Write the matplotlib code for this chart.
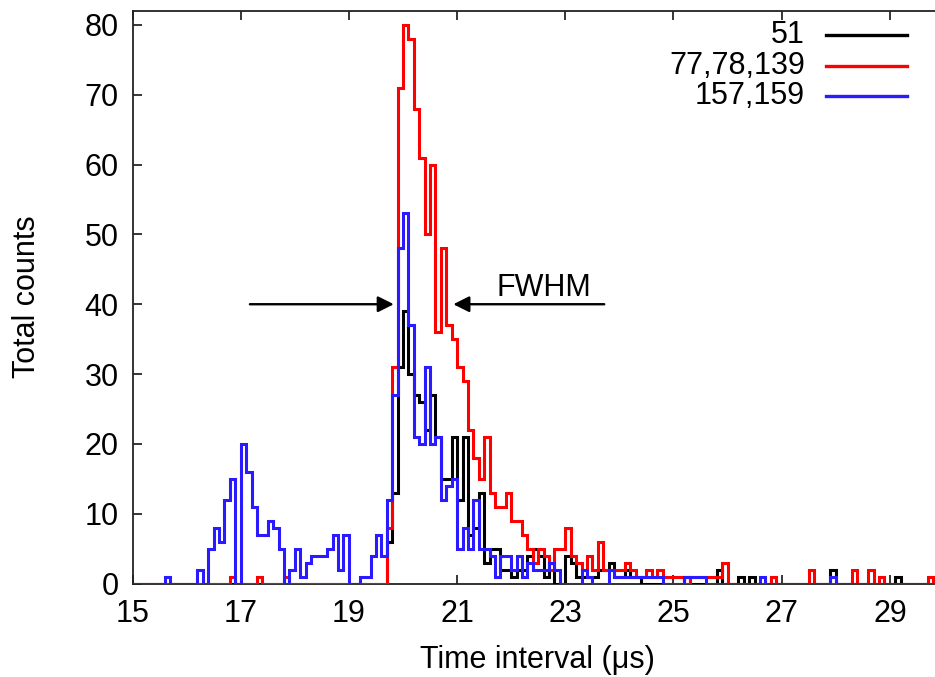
import numpy as np
import matplotlib
matplotlib.use("Agg")
import matplotlib.pyplot as plt

plt.rcParams['font.family'] = ['Liberation Sans', 'DejaVu Sans']

# ---- data: counts per 0.1 us bin, starting at 15.0 us ----
bin_start = 15.0
bin_width = 0.1

counts_51 = [
    0, 0, 0, 0, 0, 0, 0, 0, 0, 0,        # 15.0
    0, 0, 0, 0, 0, 0, 0, 0, 0, 0,        # 16.0
    0, 0, 0, 0, 0, 0, 0, 0, 0, 0,        # 17.0
    0, 0, 0, 0, 0, 0, 0, 0, 0, 0,        # 18.0
    0, 0, 0, 0, 0, 0, 0, 6, 13, 31,      # 19.0
    39, 30, 27, 26, 22, 27, 21, 15, 15, 21,  # 20.0
    12, 21, 7, 8, 13, 3, 5, 5, 2, 2,     # 21.0
    1, 2, 2, 4, 5, 4, 1, 3, 0, 0,        # 22.0
    4, 3, 1, 1, 1, 1, 2, 2, 3, 1,        # 23.0
    1, 2, 1, 1, 0, 0, 0, 0, 0, 0,        # 24.0
    0, 0, 1, 0, 0, 0, 0, 0, 2, 0,        # 25.0
    0, 0, 1, 0, 1, 0, 0, 0, 0, 0,        # 26.0
    0, 0, 0, 0, 0, 0, 0, 0, 0, 2,        # 27.0
    0, 0, 0, 0, 0, 0, 0, 0, 0, 0,        # 28.0
    0, 1, 0, 0, 0, 0, 0, 0, 0,           # 29.0
]

counts_77_78_139 = [
    0, 0, 0, 0, 0, 0, 0, 0, 0, 0,        # 15.0
    0, 0, 0, 0, 0, 0, 0, 0, 1, 0,        # 16.0
    0, 0, 0, 1, 0, 0, 0, 0, 1, 0,        # 17.0
    0, 0, 0, 0, 0, 0, 0, 0, 0, 0,        # 18.0
    0, 0, 0, 0, 0, 0, 0, 8, 31, 71,      # 19.0
    80, 78, 68, 61, 50, 60, 36, 48, 37, 35,  # 20.0
    31, 29, 22, 18, 15, 21, 13, 11, 11, 13,  # 21.0
    9, 9, 7, 5, 3, 5, 4, 2, 5, 5,        # 22.0
    8, 4, 3, 2, 4, 2, 6, 2, 2, 2,        # 23.0
    2, 3, 2, 1, 1, 2, 1, 2, 1, 1,        # 24.0
    1, 1, 0, 1, 1, 1, 1, 1, 1, 3,        # 25.0
    0, 0, 0, 0, 0, 0, 0, 0, 1, 0,        # 26.0
    0, 0, 0, 0, 0, 2, 0, 0, 0, 0,        # 27.0
    0, 0, 0, 2, 0, 0, 2, 0, 1, 0,        # 28.0
    0, 0, 0, 0, 0, 0, 0, 1, 0,           # 29.0
]

counts_157_159 = [
    0, 0, 0, 0, 0, 0, 1, 0, 0, 0,        # 15.0
    0, 0, 2, 0, 5, 8, 6, 12, 15, 0,      # 16.0
    20, 16, 11, 7, 7, 9, 8, 5, 0, 2,     # 17.0
    5, 1, 3, 4, 4, 4, 5, 7, 2, 7,        # 18.0
    0, 0, 1, 1, 4, 7, 4, 12, 27, 48,     # 19.0
    53, 37, 21, 20, 31, 20, 21, 12, 14, 15,  # 20.0
    5, 8, 5, 12, 5, 5, 4, 1, 4, 4,       # 21.0
    2, 4, 1, 3, 2, 2, 2, 3, 2, 0,        # 22.0
    0, 0, 0, 2, 1, 0, 0, 0, 2, 1,        # 23.0
    1, 1, 1, 1, 1, 1, 1, 1, 0, 0,        # 24.0
    0, 0, 1, 1, 1, 1, 0, 0, 0, 0,        # 25.0
    0, 0, 0, 0, 0, 0, 1, 0, 0, 0,        # 26.0
    0, 0, 0, 0, 0, 0, 0, 0, 0, 1,        # 27.0
    0, 0, 0, 0, 0, 0, 0, 0, 0, 0,        # 28.0
    0, 0, 0, 0, 0, 0, 0, 0, 0,           # 29.0
]

series_labels = ["51", "77,78,139", "157,159"]
series_colors = ["#000000", "#ff0000", "#2a1aff"]
series_counts = [counts_51, counts_77_78_139, counts_157_159]

x_ticks = [15, 17, 19, 21, 23, 25, 27, 29]
y_ticks = [0, 10, 20, 30, 40, 50, 60, 70, 80]

# FWHM annotation (data coordinates)
fwhm_y = 40
fwhm_left_arrow = (17.17, 19.83)   # tail, head
fwhm_right_arrow = (23.72, 20.93)  # tail, head
fwhm_text_pos = (21.73, 41.2)

# ---- figure ----
W, H = 935, 677
fig = plt.figure(figsize=(W / 100, H / 100), dpi=100)
ax_left, ax_right, ax_top, ax_bot = 132.5, 935.0, 11.0, 583.5
ax = fig.add_axes([ax_left / W, 1 - ax_bot / H, (ax_right - ax_left) / W, (ax_bot - ax_top) / H])

for counts, color in zip(series_counts, series_colors):
    c = np.asarray(counts, dtype=float)
    edges = bin_start + bin_width * np.arange(len(c) + 1)
    ax.stairs(c, edges, baseline=0, color=color, lw=2.2, zorder=3)

px_per_unit = 54.1
ax.set_xlim(15, 15 + (ax_right - ax_left) / px_per_unit)
ax.set_ylim(0, 82)
ax.set_xticks(x_ticks)
ax.set_yticks(y_ticks)

fs = 22
ax.tick_params(direction='in', length=6.5, width=1.1, top=True, right=False,
               labelsize=fs, colors='black')
ax.tick_params(axis='y', pad=10)
ax.tick_params(axis='x', pad=11)
for s in ['left', 'bottom', 'top']:
    ax.spines[s].set_linewidth(1.3)
    ax.spines[s].set_color('#222222')
ax.spines['right'].set_visible(False)

ax.set_ylabel("Total counts", fontsize=fs)
ax.set_xlabel("Time interval (μs)", fontsize=fs)
ax.yaxis.set_label_coords(-0.1315, 0.501)
ax.xaxis.set_label_coords(0.505, -0.134)
ax.xaxis.label.set_va('center')
ax.yaxis.label.set_va('center')

# FWHM arrows and text
arrow_kw = dict(arrowstyle='-|>', lw=1.7, color='black', mutation_scale=24,
                shrinkA=0, shrinkB=0)
ax.annotate("", xy=(fwhm_left_arrow[1], fwhm_y), xytext=(fwhm_left_arrow[0], fwhm_y),
            arrowprops=arrow_kw)
ax.annotate("", xy=(fwhm_right_arrow[1], fwhm_y), xytext=(fwhm_right_arrow[0], fwhm_y),
            arrowprops=arrow_kw)
ax.text(fwhm_text_pos[0], fwhm_text_pos[1], "FWHM", fontsize=fs, ha='left', va='baseline')

# custom legend (text right-aligned, line sample on the right)
leg_text_right = 805
leg_line = (826, 907)
leg_rows = [35, 65.5, 96]
for lab, col, yr in zip(series_labels, series_colors, leg_rows):
    fig.text(leg_text_right / W, 1 - yr / H, lab, fontsize=fs, ha='right', va='center')
    fig.add_artist(plt.Line2D([leg_line[0] / W, leg_line[1] / W],
                              [1 - yr / H, 1 - yr / H], color=col, lw=2.4,
                              transform=fig.transFigure))

fig.savefig("out.png", dpi=100)
